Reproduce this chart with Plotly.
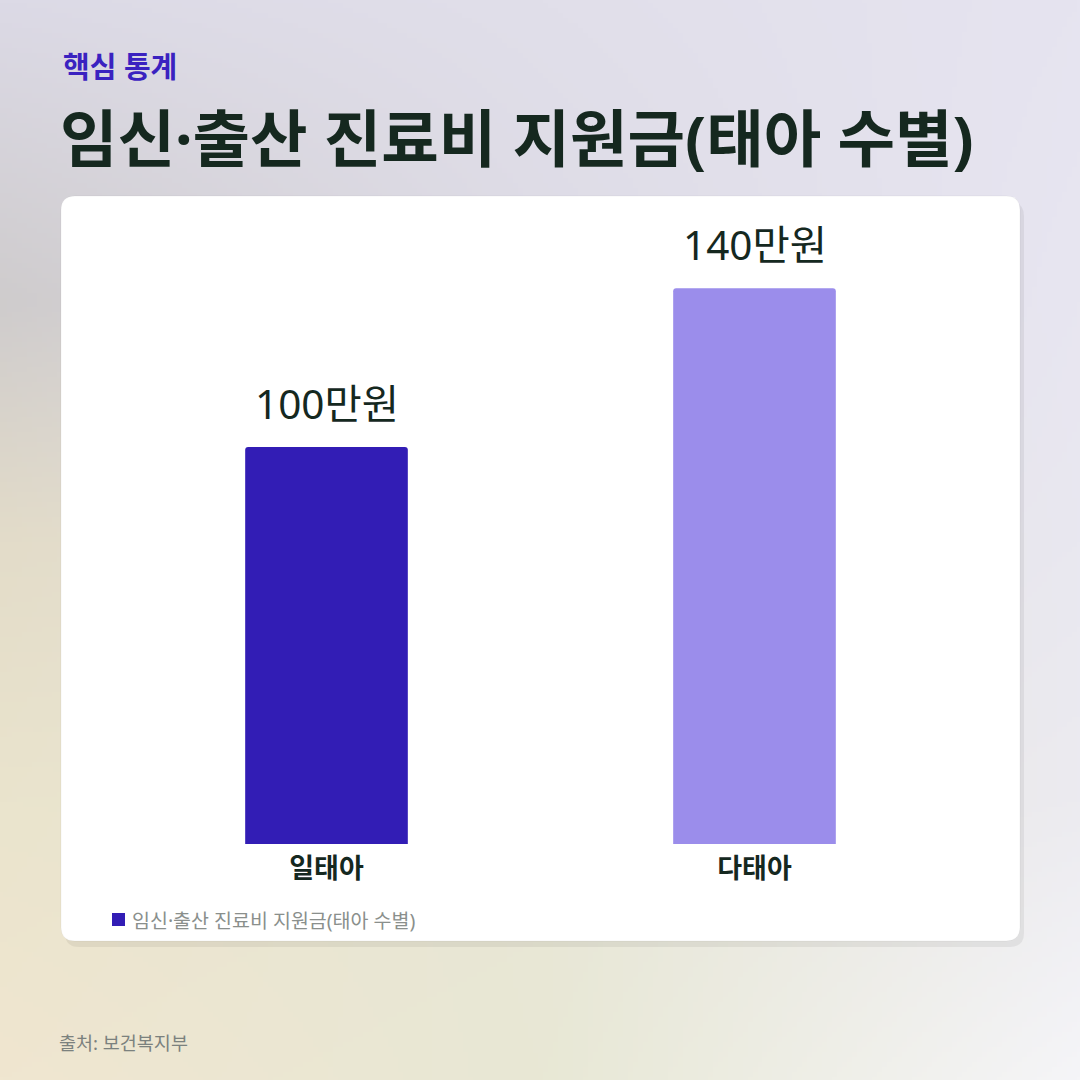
import numpy as np
import zlib, struct, base64
import plotly.graph_objects as go

# ---- data ----
categories = ["일태아", "다태아"]
values = [100, 140]
value_labels = ["100만원", "140만원"]
series_name = "임신·출산 진료비 지원금(태아 수별)"
bar_colors = ["#321db5", "#9b8deb"]
kicker = "핵심 통계"
title = "임신·출산 진료비 지원금(태아 수별)"
source = "출처: 보건복지부"

W = H = 1080
FONT = "Noto Sans, Noto Sans CJK KR"
DARK = "#15281f"


def png_data_uri(rgb):
    h, w, _ = rgb.shape
    raw = b"".join(b"\x00" + rgb[i].tobytes() for i in range(h))

    def chunk(t, d):
        c = struct.pack(">I", len(d)) + t + d
        return c + struct.pack(">I", zlib.crc32(t + d) & 0xFFFFFFFF)

    png = (b"\x89PNG\r\n\x1a\n"
           + chunk(b"IHDR", struct.pack(">IIBBBBB", w, h, 8, 2, 0, 0, 0))
           + chunk(b"IDAT", zlib.compress(raw, 9))
           + chunk(b"IEND", b""))
    return "data:image/png;base64," + base64.b64encode(png).decode()


def hex_rgb(h):
    h = h.lstrip("#")
    return [int(h[i:i + 2], 16) for i in (0, 2, 4)]


# background gradient control colours (styling only)
ctrl_x = [0, 540, 1080]
ctrl_y = [0, 300, 540, 800, 1080]
ctrl = [
    ["#dcdae6", "#e1dfea", "#e6e4f0"],
    ["#cfcccd", "#dddbe5", "#e8e6f1"],
    ["#e3dcc9", "#e4e1dc", "#e9e8f0"],
    ["#eae4cd", "#e8e6d6", "#ecebf0"],
    ["#f0e6d0", "#e8e8d5", "#f5f5f8"],
]
N = 216
px = np.linspace(0, 1080, N)
ctrl_arr = np.array([[hex_rgb(c) for c in row] for row in ctrl], dtype=float)
rows = np.stack([np.stack([np.interp(px, ctrl_x, ctrl_arr[r, :, k]) for k in range(3)], -1)
                 for r in range(len(ctrl_y))])  # (ny, N, 3)
img = np.stack([np.stack([np.interp(px, ctrl_y, rows[:, i, k]) for k in range(3)], -1)
                for i in range(N)], 1)  # (N, N, 3)
img = np.clip(img, 0, 255).astype(np.uint8)
bg_uri = png_data_uri(img)


def X(p):
    return p / W


def Y(p):
    return 1 - p / H


def rrect(x0, y0, x1, y1, r):
    return (f"M{X(x0 + r)},{Y(y0)} L{X(x1 - r)},{Y(y0)} Q{X(x1)},{Y(y0)} {X(x1)},{Y(y0 + r)} "
            f"L{X(x1)},{Y(y1 - r)} Q{X(x1)},{Y(y1)} {X(x1 - r)},{Y(y1)} "
            f"L{X(x0 + r)},{Y(y1)} Q{X(x0)},{Y(y1)} {X(x0)},{Y(y1 - r)} "
            f"L{X(x0)},{Y(y0 + r)} Q{X(x0)},{Y(y0)} {X(x0 + r)},{Y(y0)} Z")


fig = go.Figure()
fig.add_trace(go.Bar(
    x=categories, y=values, name=series_name, width=0.38,
    marker=dict(color=bar_colors, cornerradius=3, line=dict(width=0)),
    hoverinfo="skip", showlegend=False,
))

ax_bottom, ax_top = 844, 226
px_per_unit = 3.97

annotations = [
    dict(text=kicker, x=X(61), y=Y(66), xref="paper", yref="paper", xanchor="left", yanchor="middle",
         showarrow=False, font=dict(family=FONT, size=29, color="#3a22c0", weight="bold")),
    dict(text=title, x=X(58), y=Y(137), xref="paper", yref="paper", xanchor="left", yanchor="middle",
         showarrow=False, font=dict(family=FONT, size=62.5, color=DARK, weight="bold")),
    dict(text=source, x=X(57), y=Y(1042), xref="paper", yref="paper", xanchor="left", yanchor="middle",
         showarrow=False, font=dict(family=FONT, size=18.5, color="#7b817e")),
    # legend entry (series name + swatch colour of first bar)
    dict(text=series_name, x=X(130), y=Y(920), xref="paper", yref="paper", xanchor="left", yanchor="middle",
         showarrow=False, font=dict(family=FONT, size=19.5, color="#8a8f8c")),
]
for c, v, t in zip(categories, values, value_labels):
    annotations.append(dict(text=t, x=c, y=v, xref="x", yref="y", xanchor="center", yanchor="middle",
                            yshift=44, showarrow=False,
                            font=dict(family=FONT, size=40.5, color=DARK)))

fig.update_layout(
    width=W, height=H, margin=dict(l=0, r=0, t=0, b=0),
    paper_bgcolor="#e3e0e3", plot_bgcolor="rgba(0,0,0,0)",
    images=[dict(source=bg_uri, xref="paper", yref="paper", x=0, y=1, sizex=1, sizey=1,
                 xanchor="left", yanchor="top", sizing="stretch", layer="below")],
    shapes=[
        dict(type="path", path=rrect(65, 202, 1024, 947, 14), xref="paper", yref="paper",
             fillcolor="rgba(0,0,0,0.06)", line=dict(width=0), layer="below"),
        dict(type="path", path=rrect(61, 196, 1020, 941, 14), xref="paper", yref="paper",
             fillcolor="#ffffff", line=dict(width=1, color="rgba(0,0,0,0.04)"), layer="below"),
        dict(type="rect", x0=X(112), x1=X(125), y0=Y(926), y1=Y(913), xref="paper", yref="paper",
             fillcolor=bar_colors[0], line=dict(width=0), layer="above"),
    ],
    annotations=annotations,
    xaxis=dict(domain=[X(112.5), X(968.5)], range=[-0.5, 1.5], type="category",
               showgrid=False, showline=False, zeroline=False, ticks="",
               tickfont=dict(family=FONT, size=27, color=DARK, weight="bold"),
               ticklabelstandoff=6),
    yaxis=dict(domain=[Y(ax_bottom), Y(ax_top)], range=[0, (ax_bottom - ax_top) / px_per_unit],
               visible=False, showgrid=False, zeroline=False),
    showlegend=False,
    font=dict(family=FONT),
)

fig.write_html("out.html", config={"displayModeBar": False},
               post_script="document.body.style.margin='0';")
